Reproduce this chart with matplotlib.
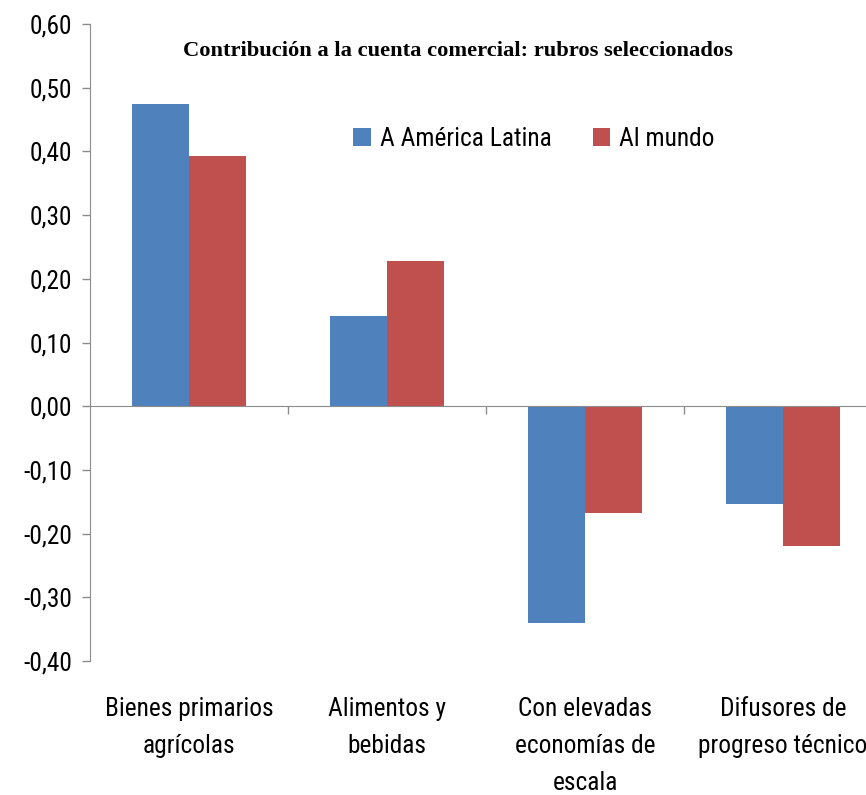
import numpy as np
import matplotlib
matplotlib.use("Agg")
import matplotlib.pyplot as plt
import matplotlib.transforms as mtransforms

categories = ["Bienes primarios\nagrícolas", "Alimentos y\nbebidas",
              "Con elevadas\neconomías de\nescala", "Difusores de\nprogreso técnico"]
america_latina = [0.475, 0.142, -0.340, -0.153]
al_mundo = [0.393, 0.228, -0.168, -0.220]
yticks = [-0.4, -0.3, -0.2, -0.1, 0.0, 0.1, 0.2, 0.3, 0.4, 0.5, 0.6]

narrow = ["Roboto Condensed", "DejaVu Sans"]
fsz = 18.3
font = dict(family=narrow, stretch="condensed", size=fsz)

fig = plt.figure(figsize=(8.66, 7.95), dpi=100)
ax = fig.add_axes([90 / 866, 1 - 661 / 795, (882 - 90) / 866, (661 - 24) / 795])

x = np.arange(len(categories))
w = 0.29
ax.bar(x - w / 2, america_latina, w, color="#4F81BD", label="A América Latina")
ax.bar(x + w / 2, al_mundo, w, color="#C0504D", label="Al mundo")

ax.set_xlim(-0.5, 3.5)
ax.set_ylim(-0.4, 0.6)
ax.set_yticks(yticks)
ax.set_yticklabels([f"{v:.2f}".replace(".", ",") for v in yticks], fontdict=font)

grey = "#8C8C8C"
for s in ["top", "right"]:
    ax.spines[s].set_visible(False)
ax.spines["left"].set_color(grey)
ax.spines["bottom"].set_color(grey)
ax.spines["bottom"].set_position(("data", 0))
ax.set_xticks([0.5, 1.5, 2.5])
ax.set_xticklabels([])
ax.tick_params(axis="both", direction="out", length=6, color=grey, width=1)
ax.tick_params(axis="y", pad=7)

# category names sit under the plot, not at the zero line
trans = mtransforms.blended_transform_factory(ax.transData, ax.transAxes)
for i, lab in enumerate(categories):
    ax.text(i, -0.056, lab, transform=trans, ha="center", va="top",
            fontdict=font, linespacing=1.68)

fig.text(458 / 866, 1 - 51 / 795,
         "Contribución a la cuenta comercial: rubros seleccionados",
         ha="center", va="center", fontsize=16.2, fontweight="bold",
         family="Liberation Serif")

ax.legend(loc="center", bbox_to_anchor=(534 / 866, 1 - 139 / 795),
          bbox_transform=fig.transFigure, ncol=2, frameon=False,
          prop=font, handlelength=0.7, handleheight=0.7,
          handletextpad=0.35, columnspacing=1.6)

fig.savefig("out.png", dpi=100)
